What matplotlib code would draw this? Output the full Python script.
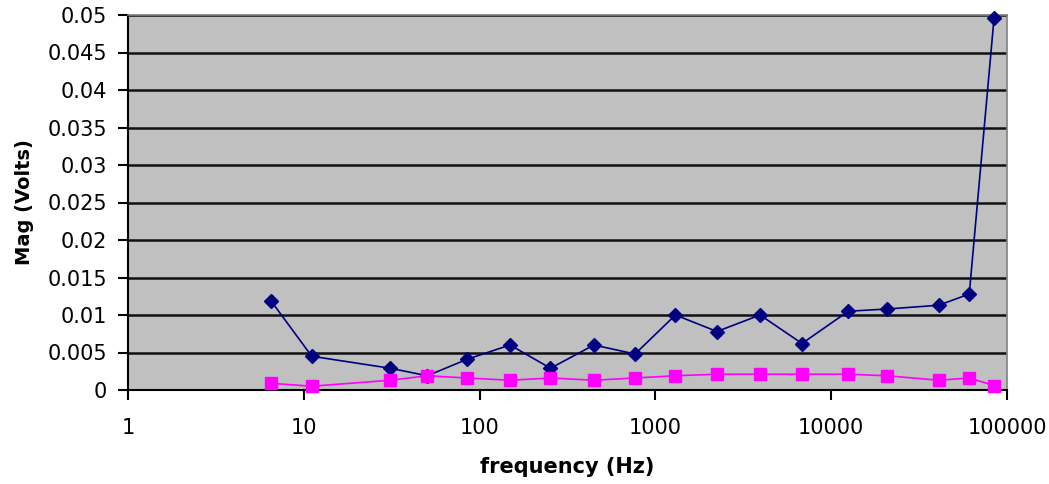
import matplotlib
matplotlib.use("Agg")
from matplotlib import pyplot as plt
from matplotlib.ticker import FixedLocator, FixedFormatter, NullLocator

# frequencias (Hz)
freq = [6.5, 11.1, 31, 50.4, 85, 149, 253, 447, 766, 1300,
        2240, 3940, 6820, 12500, 20800, 40900, 61000, 84400]
mag_azul = [0.0119, 0.0045, 0.0029, 0.0019, 0.0041, 0.0060, 0.0029, 0.0060, 0.0048, 0.0100,
            0.0078, 0.0100, 0.0062, 0.0105, 0.0108, 0.0113, 0.0128, 0.0496]
mag_rosa = [0.0009, 0.0005, 0.0013, 0.0019, 0.0016, 0.0013, 0.0016, 0.0013, 0.0016, 0.0019,
            0.0021, 0.0021, 0.0021, 0.0021, 0.0019, 0.0013, 0.0016, 0.0006]

x_ticks = [1, 10, 100, 1000, 10000, 100000]
x_tick_labels = ["1", "10", "100", "1000", "10000", "100000"]
y_ticks = [0, 0.005, 0.01, 0.015, 0.02, 0.025, 0.03, 0.035, 0.04, 0.045, 0.05]
y_tick_labels = ["0", "0.005", "0.01", "0.015", "0.02", "0.025", "0.03", "0.035", "0.04", "0.045", "0.05"]

plt.rcParams['font.family'] = ['DejaVu Sans']

fig = plt.figure(figsize=(10.49, 4.84), dpi=100)
ax = fig.add_axes([128 / 1049, 1 - 390 / 484, (1007 - 128) / 1049, (390 - 15) / 484])
ax.set_facecolor('#C0C0C0')

ax.set_xscale('log')
ax.set_xlim(1, 100000)
ax.set_ylim(0, 0.05)

for y in y_ticks[1:]:
    ax.axhline(y, color='#111111', linewidth=1.8, zorder=1)

ax.plot(freq, mag_azul, color='#000080', linewidth=1.2, marker='D', markersize=7,
        markerfacecolor='#000080', markeredgecolor='#000080', zorder=3, clip_on=False)
ax.plot(freq, mag_rosa, color='#FF00FF', linewidth=1.2, marker='s', markersize=8,
        markerfacecolor='#FF00FF', markeredgecolor='#FF00FF', zorder=3, clip_on=False)

ax.xaxis.set_major_locator(FixedLocator(x_ticks))
ax.xaxis.set_major_formatter(FixedFormatter(x_tick_labels))
ax.xaxis.set_minor_locator(NullLocator())
ax.yaxis.set_major_locator(FixedLocator(y_ticks))
ax.yaxis.set_major_formatter(FixedFormatter(y_tick_labels))

ax.tick_params(axis='x', direction='out', length=7, width=1.5, pad=13, labelsize=15)
ax.tick_params(axis='y', direction='out', length=7, width=1.5, pad=8, labelsize=15)

for lado in ['left', 'bottom']:
    ax.spines[lado].set_color('black')
    ax.spines[lado].set_linewidth(1.5)
for lado in ['top', 'right']:
    ax.spines[lado].set_color('#808080')
    ax.spines[lado].set_linewidth(1.2)

ax.set_xlabel('frequency (Hz)', fontsize=15, fontweight='bold', labelpad=14)
ax.set_ylabel('Mag (Volts)', fontsize=14, fontweight='bold', labelpad=10)

fig.savefig('out.png', dpi=100)
